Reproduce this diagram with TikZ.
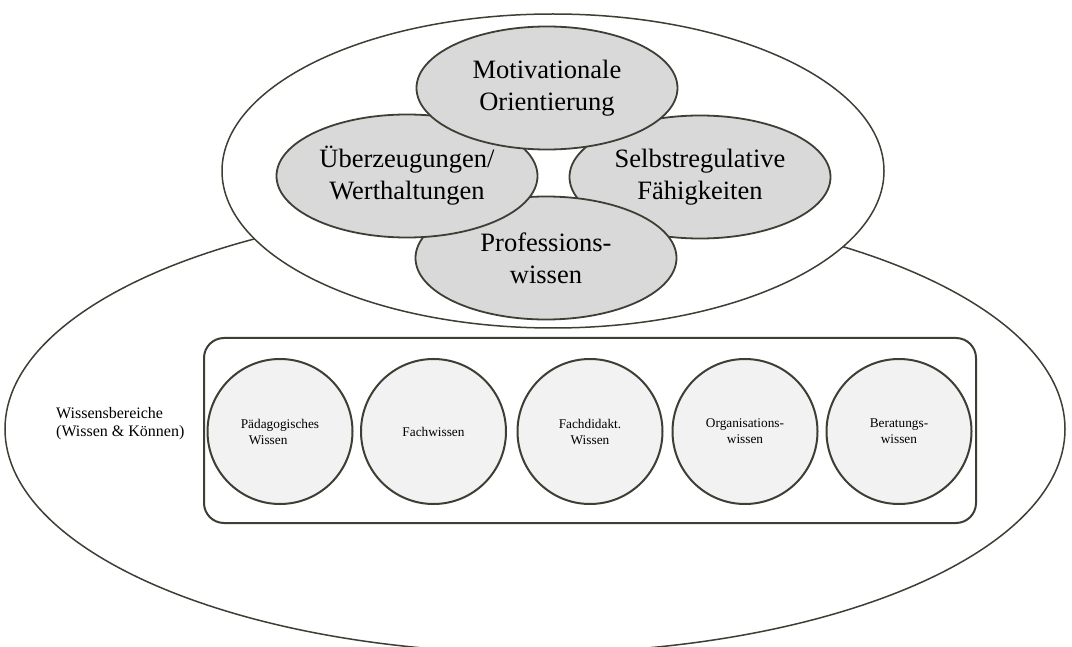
\documentclass[tikz,border=0pt]{standalone}
\usepackage{fontspec}
\setmainfont{Liberation Serif}
\usetikzlibrary{shapes.geometric}
\definecolor{edge}{HTML}{3C4034}
\definecolor{darkfill}{HTML}{D9D9D9}
\definecolor{lightfill}{HTML}{F2F2F2}
\begin{document}
\begin{tikzpicture}[x=1pt,y=-1pt,
  outer/.style={ellipse, draw=edge, line width=1.5pt, fill=white, inner sep=0pt},
  facet/.style={ellipse, draw=edge, line width=1.8pt, fill=darkfill, inner sep=0pt,
    minimum width=261pt, minimum height=123pt, align=center,
    font=\fontsize{26.5}{32}\selectfont},
  knowcircle/.style={circle, draw=edge, line width=2pt, fill=lightfill, inner sep=0pt,
    minimum size=145pt, font=\fontsize{13.3}{16}\selectfont},
  frame/.style={draw=edge, line width=2pt, rounded corners=20pt, inner sep=0pt},
]
\useasboundingbox (0,0) rectangle (1072,647);
\clip (0,0) rectangle (1072,647);
\fill[white] (0,0) rectangle (1072,647);

% outer containers
\node[outer, minimum width=1060pt, minimum height=448pt] (base) at (535,429) {};
\node[outer, minimum width=662pt, minimum height=314pt] (core) at (553,171) {};

% four overlapping facets of competence
\node[facet] (selbst) at (700,177) {Selbstregulative\\Fähigkeiten};
\node[facet] (prof) at (546,258) {Professions-\\wissen};
\node[facet] (ueber) at (407,176) {Überzeugungen/\\Werthaltungen};
\node[facet] (motiv) at (547,88) {Motivationale\\Orientierung};

% knowledge domains
\node[frame, minimum width=772pt, minimum height=185pt] (domains) at (590,430.5) {};
\node[knowcircle, align=left] (paed) at (280,431.5) {Pädagogisches\\\hspace*{8pt}Wissen};
\node[knowcircle, align=center] (fach) at (433.5,431.5) {Fachwissen};
\node[knowcircle, align=center] (didakt) at (590,431.5) {Fachdidakt.\\Wissen};
\node[knowcircle, align=center] (orga) at (745,431.5) {Organisations-\\wissen};
\node[knowcircle, align=left] (berat) at (899,431.5) {Beratungs-\\\hspace*{11pt}wissen};

\node[anchor=west, align=left, inner sep=0pt, font=\fontsize{16}{18}\selectfont]
  (label) at (56,424) {Wissensbereiche\\(Wissen \& Können)};
\end{tikzpicture}
\end{document}
